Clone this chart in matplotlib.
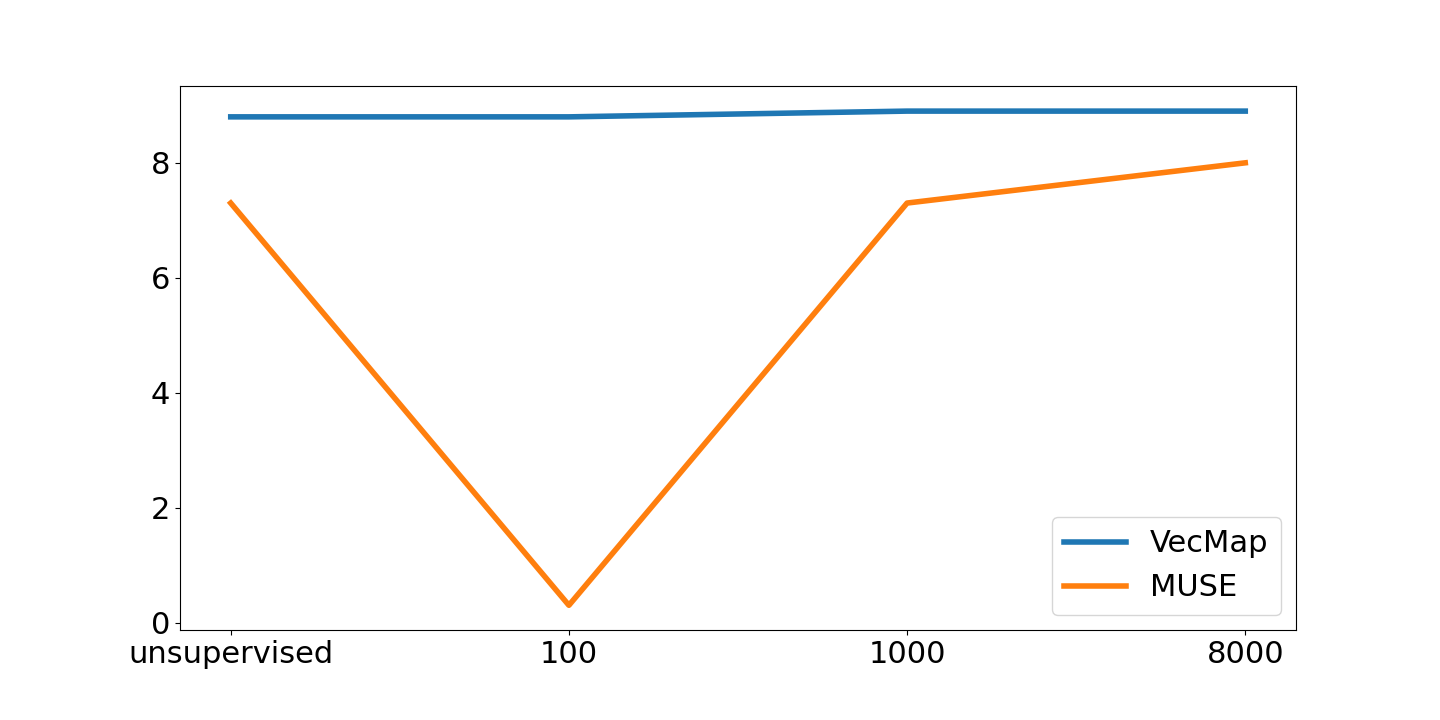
import numpy as np
from matplotlib import pyplot as plt

labels = ["unsupervised", "100", "1000", "8000"]
vecmap = [8.8, 8.8, 8.9, 8.9]
muse = [7.3, 0.3, 7.3, 8.0]

plt.rcParams["font.size"] = 22
fig = plt.figure(figsize=(14.4, 7.2), dpi=100)
ax = fig.add_axes([0.125, 0.125, 0.775, 0.755])
x = np.arange(len(labels))
ax.plot(x, vecmap, linewidth=4, label="VecMap")
ax.plot(x, muse, linewidth=4, label="MUSE")
ax.set_xticks(x)
ax.set_xticklabels(labels)
ax.legend(loc="lower right")
fig.savefig("out.png", dpi=100)
